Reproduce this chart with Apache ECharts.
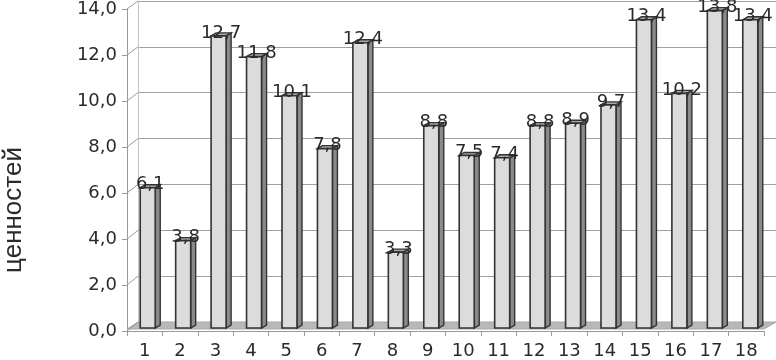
<!DOCTYPE html>
<html>
<head>
<meta charset="utf-8">
<script src="https://cdn.jsdelivr.net/npm/echarts@6/dist/echarts.min.js"></script>
<style>html,body{margin:0;padding:0;background:#fff}#c{width:776px;height:360px}</style>
</head>
<body>
<div id="c"></div>
<script>
const categories = ['1','2','3','4','5','6','7','8','9','10','11','12','13','14','15','16','17','18'];
const values = [6.1, 3.8, 12.7, 11.8, 10.1, 7.8, 12.4, 3.3, 8.8, 7.5, 7.4, 8.8, 8.9, 9.7, 13.4, 10.2, 13.8, 13.4];
const yTicks = [0, 2, 4, 6, 8, 10, 12, 14];
const axisTitle = 'ценностей';

const fmt = v => v.toFixed(1).replace('.', ',');
const chart = echarts.init(document.getElementById('c'), null, {renderer: 'canvas'});

const DX = 5, DY = -3, FW = 15;

chart.setOption({
  animation: false,
  backgroundColor: '#fff',
  grid: [
    {left: 138, right: 0, top: 1, bottom: 38},
    {left: 127, right: 12, top: 9, bottom: 28},
    {left: 129, right: 9, top: 6, bottom: 32}
  ],
  xAxis: [
    {gridIndex: 0, type: 'category', data: categories, show: false},
    {gridIndex: 1, type: 'category', data: categories,
     axisLine: {show: true, lineStyle: {color: '#999', width: 1}},
     axisTick: {show: true, length: 5, lineStyle: {color: '#999'}},
     axisLabel: {fontSize: 18, fontFamily: 'DejaVu Sans', color: '#2a2a2a', margin: 11}},
    {gridIndex: 2, type: 'category', data: categories, show: false}
  ],
  yAxis: [
    {gridIndex: 0, type: 'value', min: 0, max: 14, interval: 2,
     axisLabel: {show: false}, axisTick: {show: false},
     axisLine: {show: true, lineStyle: {color: '#c4c4c4'}},
     splitLine: {show: true, lineStyle: {color: '#a0a0a0', width: 1}}},
    {gridIndex: 1, type: 'value', min: 0, max: 14, interval: 2,
     axisLine: {show: true, lineStyle: {color: '#999'}},
     axisTick: {show: true, length: 5, lineStyle: {color: '#999'}},
     splitLine: {show: false},
     axisLabel: {formatter: v => fmt(v), fontSize: 18, fontFamily: 'DejaVu Sans', color: '#2a2a2a', margin: 10}},
    {gridIndex: 2, type: 'value', min: 0, max: 14, show: false, splitLine: {show: false}}
  ],
  series: [{
    type: 'custom',
    xAxisIndex: 2, yAxisIndex: 2,
    z: 5,
    data: values,
    renderItem: function (params, api) {
      const top = api.coord([api.value(0), api.value(1)]);
      const base = api.coord([api.value(0), 0]);
      const xl = top[0] - FW / 2 + 1, xr = xl + FW;
      const yt = top[1], yb = base[1];
      const stroke = '#333';
      return {
        type: 'group',
        children: [
          {type: 'polygon', shape: {points: [[xr, yt], [xr + DX, yt + DY], [xr + DX, yb + DY], [xr, yb]]},
           style: {fill: '#8a8a8a', stroke: stroke, lineWidth: 1.4}},
          {type: 'polygon', shape: {points: [[xl, yt], [xl + DX, yt + DY], [xr + DX, yt + DY], [xr, yt]]},
           style: {fill: '#a8a8a8', stroke: stroke, lineWidth: 1.4}},
          {type: 'rect', shape: {x: xl, y: yt, width: FW, height: yb - yt},
           style: {fill: '#dcdcdc', stroke: stroke, lineWidth: 1.6}},
          {type: 'text', z2: 10,
           style: {text: fmt(api.value(1)), x: (xl + xr + DX) / 2, y: yt + 6,
                   align: 'center', verticalAlign: 'bottom',
                   font: '18px "DejaVu Sans"', fill: '#2a2a2a'}}
        ]
      };
    }
  }]
});

// decorative 3D floor and wall ticks, computed from the axes
const g = [];
const frontY0 = chart.convertToPixel({yAxisIndex: 1}, 0);
const backY0 = chart.convertToPixel({yAxisIndex: 0}, 0);
g.push({type: 'polygon', z: 1, silent: true,
  shape: {points: [[127, frontY0 - 2], [138, backY0], [776, backY0], [764, frontY0 - 2]]},
  style: {fill: '#b8b8b8', stroke: '#a8a8a8', lineWidth: 1}});
yTicks.forEach(v => {
  const yf = chart.convertToPixel({yAxisIndex: 1}, v);
  const yb = chart.convertToPixel({yAxisIndex: 0}, v);
  g.push({type: 'line', z: 2, silent: true,
    shape: {x1: 127, y1: yf, x2: 138, y2: yb},
    style: {stroke: '#999', lineWidth: 1}});
});
g.push({type: 'text', z: 3, silent: true, x: 14, y: 210, rotation: Math.PI / 2,
  style: {text: axisTitle, font: '26px "Liberation Sans"', fill: '#2a2a2a', align: 'center', verticalAlign: 'middle'}});
chart.setOption({graphic: g});
</script>
</body>
</html>
